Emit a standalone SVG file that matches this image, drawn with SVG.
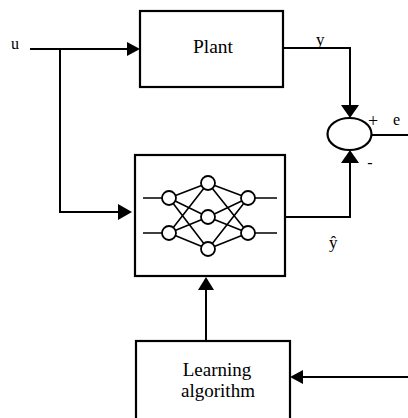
<svg xmlns="http://www.w3.org/2000/svg" width="408" height="418" viewBox="0 0 408 418">
<style>
.ln{fill:none;stroke:#000;stroke-width:2}
.bx{fill:#fff;stroke:#000;stroke-width:2.2}
.ah{fill:#000;stroke:none}
.nn{fill:#fff;stroke:#000;stroke-width:1.8}
.nl{stroke:#000;stroke-width:1.6;fill:none}
.t{font-family:"Liberation Serif","Times New Roman",serif;fill:#000}
</style>
<rect width="408" height="418" fill="#fff"/>
<g id="connectors">
  <path class="ln" d="M30 49 H128"/>
  <path class="ah" d="M127 42 L140 49 L127 56 Z"/>
  <path class="ln" d="M60 49 V212 H119"/>
  <path class="ah" d="M118 204 L132 212 L118 220 Z"/>
  <path class="ln" d="M283 48 H350 V106"/>
  <path class="ah" d="M341 105 L359 105 L350 118 Z"/>
  <path class="ln" d="M285 217 H350 V162"/>
  <path class="ah" d="M341 163 L359 163 L350 150 Z"/>
  <path class="ln" d="M372 135 H408"/>
  <path class="ln" d="M206 341 V290"/>
  <path class="ah" d="M198 290 L214 290 L206 277 Z"/>
  <path class="ln" d="M408 377 H302"/>
  <path class="ah" d="M303 370 L303 384 L290 377 Z"/>
</g>
<g id="plant">
  <rect class="bx" x="140" y="11" width="143" height="76"/>
  <text class="t" x="213" y="53" font-size="18" text-anchor="middle" textLength="40" lengthAdjust="spacingAndGlyphs">Plant</text>
</g>
<g id="sum">
  <ellipse cx="349.5" cy="134" rx="22" ry="16" fill="#fff" stroke="#000" stroke-width="2.2"/>
  <text class="t" x="373" y="127" font-size="18" text-anchor="middle">+</text>
  <text class="t" x="370" y="168" font-size="16" text-anchor="middle">-</text>
</g>
<g id="neural-net">
  <rect class="bx" x="135" y="155" width="150" height="121"/>
  <g class="nl">
    <path d="M143 198 H162 M143 233 H162 M255 198 H277 M255 233 H277"/>
    <path d="M169 198 L208 183 M169 198 L208 217 M169 198 L208 249 M169 233 L208 183 M169 233 L208 217 M169 233 L208 249"/>
    <path d="M208 183 L248 198 M208 183 L248 233 M208 217 L248 198 M208 217 L248 233 M208 249 L248 198 M208 249 L248 233"/>
  </g>
  <circle class="nn" cx="169" cy="198" r="7"/>
  <circle class="nn" cx="169" cy="233" r="7"/>
  <circle class="nn" cx="208" cy="183" r="7"/>
  <circle class="nn" cx="208" cy="217" r="7"/>
  <circle class="nn" cx="208" cy="249" r="7"/>
  <circle class="nn" cx="248" cy="198" r="7"/>
  <circle class="nn" cx="248" cy="233" r="7"/>
</g>
<g id="learning">
  <rect class="bx" x="136" y="341" width="154" height="80"/>
  <text class="t" x="217" y="376" font-size="19" text-anchor="middle">Learning</text>
  <text class="t" x="218" y="397" font-size="19" text-anchor="middle">algorithm</text>
</g>
<g id="labels">
  <text class="t" x="11" y="49" font-size="16">u</text>
  <text class="t" x="316" y="45" font-size="17">y</text>
  <text class="t" x="393" y="125" font-size="16">e</text>
  <text class="t" x="329" y="248" font-size="17">ŷ</text>
</g>
</svg>
